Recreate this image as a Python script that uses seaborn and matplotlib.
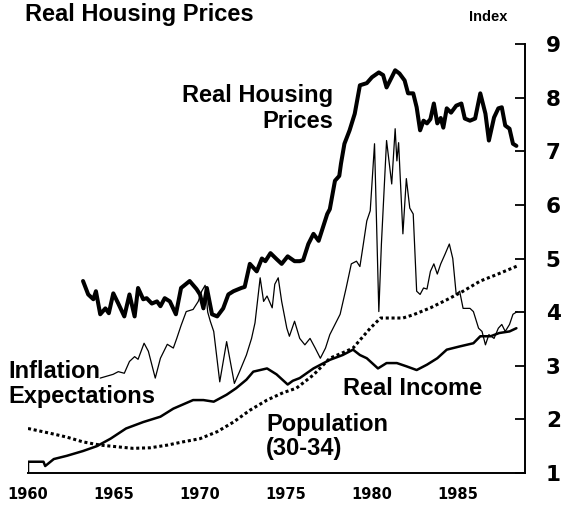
import matplotlib
matplotlib.use("Agg")
import matplotlib.pyplot as plt
import seaborn as sns
from matplotlib.ticker import MultipleLocator

# ---------------------------------------------------------------------------
# Data (index values)
# ---------------------------------------------------------------------------
housing_years = [1963.2, 1963.5, 1963.8, 1963.95, 1964.2, 1964.5, 1964.7, 1964.96,
                 1965.25, 1965.6, 1965.9, 1966.2, 1966.4, 1966.7, 1966.9, 1967.2,
                 1967.5, 1967.7, 1967.95, 1968.25, 1968.6, 1968.9, 1969.4, 1969.8,
                 1970.0, 1970.2, 1970.4, 1970.7, 1971.0, 1971.35, 1971.65, 1971.95,
                 1972.4, 1972.6, 1972.9, 1973.3, 1973.6, 1973.8, 1974.1, 1974.45,
                 1974.75, 1975.1, 1975.5, 1975.8, 1976.0, 1976.3, 1976.6, 1976.9,
                 1977.4, 1977.55, 1977.85, 1978.1, 1978.2, 1978.4, 1978.7, 1979.0,
                 1979.3, 1979.7, 1980.0, 1980.4, 1980.65, 1980.85, 1981.15, 1981.35,
                 1981.6, 1981.9, 1982.1, 1982.4, 1982.6, 1982.8, 1983.0, 1983.2,
                 1983.4, 1983.6, 1983.8, 1984.0, 1984.15, 1984.35, 1984.6, 1984.9,
                 1985.2, 1985.4, 1985.7, 1986.0, 1986.3, 1986.6, 1986.8, 1987.1,
                 1987.35, 1987.55, 1987.75, 1988.0, 1988.2, 1988.4]
housing_values = [4.58, 4.33, 4.24, 4.39, 3.96, 4.07, 3.98, 4.35,
                  4.16, 3.92, 4.33, 3.92, 4.45, 4.24, 4.26, 4.16,
                  4.20, 4.11, 4.26, 4.20, 3.96, 4.45, 4.58, 4.43,
                  4.33, 4.07, 4.45, 3.96, 3.92, 4.07, 4.33, 4.39,
                  4.45, 4.47, 4.90, 4.76, 5.00, 4.95, 5.10, 4.99,
                  4.90, 5.04, 4.95, 4.95, 4.97, 5.27, 5.46, 5.33,
                  5.83, 5.92, 6.45, 6.54, 6.77, 7.14, 7.39, 7.70,
                  8.23, 8.27, 8.38, 8.47, 8.42, 8.19, 8.38, 8.51,
                  8.45, 8.32, 8.08, 8.08, 7.82, 7.39, 7.57, 7.52,
                  7.60, 7.89, 7.52, 7.62, 7.44, 7.80, 7.72, 7.85,
                  7.89, 7.61, 7.57, 7.61, 8.08, 7.70, 7.20, 7.63,
                  7.80, 7.82, 7.48, 7.42, 7.14, 7.10]

inflation_years = [1964.2, 1964.95, 1965.25, 1965.6, 1965.9, 1966.2, 1966.4, 1966.75,
                   1967.0, 1967.4, 1967.7, 1968.1, 1968.45, 1968.65, 1968.9, 1969.2,
                   1969.6, 1969.9, 1970.1, 1970.3, 1970.45, 1970.6, 1970.8, 1971.15,
                   1971.55, 1972.0, 1972.3, 1972.7, 1973.0, 1973.2, 1973.5, 1973.7,
                   1973.9, 1974.2, 1974.35, 1974.55, 1974.75, 1975.05, 1975.2, 1975.5,
                   1975.8, 1976.1, 1976.4, 1976.7, 1977.0, 1977.3, 1977.55, 1977.85,
                   1978.15, 1978.5, 1978.8, 1979.1, 1979.3, 1979.5, 1979.7, 1979.9,
                   1980.15, 1980.4, 1980.55, 1980.85, 1981.15, 1981.35, 1981.45, 1981.55,
                   1981.8, 1982.0, 1982.2, 1982.4, 1982.6, 1982.8, 1983.0, 1983.2,
                   1983.4, 1983.6, 1983.8, 1984.0, 1984.25, 1984.5, 1984.7, 1984.9,
                   1985.1, 1985.3, 1985.7, 1985.9, 1986.2, 1986.4, 1986.6, 1986.8,
                   1987.1, 1987.35, 1987.55, 1987.75, 1988.0, 1988.2, 1988.45]
inflation_values = [2.77, 2.84, 2.89, 2.86, 3.08, 3.17, 3.12, 3.42,
                    3.27, 2.77, 3.14, 3.40, 3.33, 3.51, 3.75, 4.01,
                    4.05, 4.20, 4.39, 4.50, 4.00, 3.83, 3.64, 2.70,
                    3.45, 2.67, 2.89, 3.20, 3.51, 3.80, 4.64, 4.20,
                    4.30, 4.08, 4.52, 4.64, 4.20, 3.70, 3.55, 3.83,
                    3.51, 3.39, 3.51, 3.33, 3.14, 3.33, 3.58, 3.77,
                    3.96, 4.45, 4.90, 4.95, 4.85, 5.27, 5.70, 5.89,
                    7.14, 4.01, 5.27, 7.20, 6.39, 7.42, 6.82, 7.16,
                    5.46, 6.49, 5.94, 5.83, 4.39, 4.33, 4.45, 4.43,
                    4.76, 4.90, 4.71, 4.90, 5.08, 5.27, 5.00, 4.33,
                    4.39, 4.07, 4.07, 4.01, 3.70, 3.64, 3.39, 3.58,
                    3.51, 3.70, 3.77, 3.64, 3.77, 3.96, 4.01]

income_years = [1960.0, 1960.0, 1960.9, 1961.0, 1961.5, 1962.25, 1963.2, 1964.0,
                1964.8, 1965.7, 1966.7, 1967.7, 1968.45, 1969.6, 1970.2, 1970.8,
                1971.55, 1972.1, 1972.7, 1973.1, 1973.9, 1974.45, 1975.1, 1975.4,
                1975.8, 1976.6, 1977.55, 1978.3, 1978.9, 1979.3, 1979.7, 1980.35,
                1980.85, 1981.45, 1982.0, 1982.6, 1983.2, 1983.8, 1984.35, 1985.1,
                1985.9, 1986.3, 1986.9, 1987.4, 1988.0, 1988.4]
income_values = [1.00, 1.21, 1.21, 1.13, 1.26, 1.32, 1.41, 1.50,
                 1.64, 1.83, 1.95, 2.05, 2.20, 2.36, 2.36, 2.33,
                 2.46, 2.58, 2.74, 2.89, 2.95, 2.84, 2.65, 2.72,
                 2.77, 2.95, 3.11, 3.20, 3.30, 3.20, 3.14, 2.95,
                 3.05, 3.05, 2.99, 2.92, 3.02, 3.14, 3.30, 3.36,
                 3.42, 3.55, 3.55, 3.61, 3.64, 3.70]

population_years = [1960.0, 1961.3, 1962.25, 1963.2, 1964.2, 1965.15, 1966.1, 1967.1,
                    1968.1, 1969.0, 1970.0, 1971.0, 1971.95, 1972.9, 1973.9, 1974.85,
                    1975.6, 1976.6, 1977.55, 1978.5, 1978.9, 1979.9, 1980.5, 1981.05,
                    1981.8, 1982.4, 1983.4, 1984.35, 1985.3, 1986.3, 1987.25, 1988.45]
population_values = [1.83, 1.74, 1.67, 1.58, 1.52, 1.49, 1.46, 1.47,
                     1.52, 1.58, 1.64, 1.77, 1.95, 2.17, 2.36, 2.50,
                     2.58, 2.83, 3.14, 3.27, 3.33, 3.70, 3.89, 3.89,
                     3.89, 3.95, 4.08, 4.23, 4.39, 4.58, 4.70, 4.86]

year_ticks = [1960, 1965, 1970, 1975, 1980, 1985]
index_ticks = [1, 2, 3, 4, 5, 6, 7, 8, 9]

# ---------------------------------------------------------------------------
# Style
# ---------------------------------------------------------------------------
sns.set_style("white")
plt.rcParams['font.family'] = ['Liberation Sans', 'DejaVu Sans']
plt.rcParams['font.weight'] = 'bold'
plt.rcParams['text.color'] = 'black'
plt.rcParams['xtick.color'] = 'black'
plt.rcParams['ytick.color'] = 'black'

fig = plt.figure(figsize=(5.62, 5.05), dpi=100)
ax = fig.add_axes([28 / 562, 32 / 505, 497 / 562, 429 / 505])

ink = 'black'
sns.lineplot(x=housing_years, y=housing_values, ax=ax, color=ink, linewidth=2.9,
             estimator=None, sort=False)
sns.lineplot(x=inflation_years, y=inflation_values, ax=ax, color=ink, linewidth=0.9,
             estimator=None, sort=False)
sns.lineplot(x=income_years, y=income_values, ax=ax, color=ink, linewidth=1.8,
             estimator=None, sort=False)
sns.lineplot(x=population_years, y=population_values, ax=ax, color=ink, linewidth=2.2,
             linestyle=(0, (1, 0.9)), estimator=None, sort=False)

ax.set_xlim(1960, 1988.9)
ax.set_ylim(1, 9)
ax.set_xlabel('')
ax.set_ylabel('')

for side in ['left', 'top']:
    ax.spines[side].set_visible(False)
for side in ['right', 'bottom']:
    ax.spines[side].set_linewidth(1.4)
    ax.spines[side].set_color(ink)

# index axis on the right, heavy digits
ax.yaxis.tick_right()
ax.set_yticks(index_ticks)
ax.set_yticklabels([str(t) for t in index_ticks], family='DejaVu Sans',
                   fontweight='bold', fontsize=15.5)
ax.tick_params(axis='y', direction='in', length=7, width=1.3, pad=15)

ax.set_xticks(year_ticks)
ax.set_xticklabels([str(t) for t in year_ticks], family='DejaVu Sans',
                   fontweight='bold', fontsize=10.5)
ax.xaxis.set_minor_locator(MultipleLocator(1))
ax.tick_params(axis='x', which='both', direction='in', length=8, width=1.2, pad=10)

# series labels
ax.text(1977.75, 7.8, 'Real Housing\nPrices', ha='right', va='center',
        fontsize=17, fontweight='bold', multialignment='right')
ax.text(1958.85, 2.66, 'Inflation\nExpectations', ha='left', va='center',
        fontsize=17, fontweight='bold', linespacing=1.1)
ax.text(1978.3, 2.57, 'Real Income', ha='left', va='center',
        fontsize=17, fontweight='bold')
ax.text(1973.85, 1.68, 'Population\n(30-34)', ha='left', va='center',
        fontsize=17, fontweight='bold', linespacing=1.1)

fig.text(25 / 562, 1 - 15 / 505, 'Real Housing Prices', ha='left', va='center',
         fontsize=17, fontweight='bold')
fig.text(488 / 562, 1 - 17 / 505, 'Index', ha='center', va='center',
         fontsize=10.5, fontweight='bold')

fig.savefig('out.png', dpi=100)
plt.close(fig)
